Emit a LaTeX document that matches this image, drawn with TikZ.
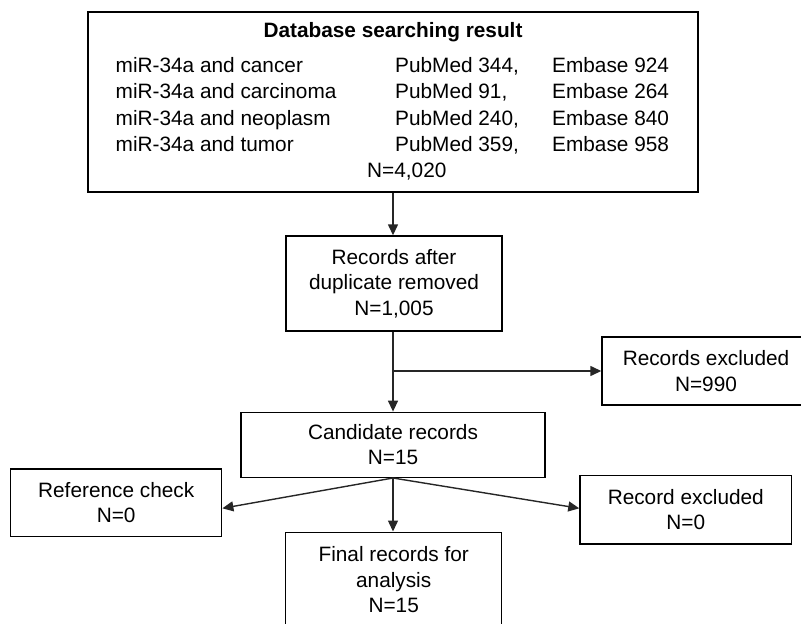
\documentclass[tikz,border=0pt]{standalone}
\usepackage{fontspec}
\setmainfont{Liberation Sans}
\usetikzlibrary{arrows.meta}
\tikzset{
  box/.style={draw=black, line width=1.4pt, inner sep=0pt, align=center,
    font=\fontsize{20.8}{25.5}\selectfont},
  txt/.style={inner sep=0pt, font=\fontsize{20.8}{25.5}\selectfont},
  conn/.style={draw=black!85, line width=1.4pt, -{Triangle[length=11pt,width=10pt]}},
  plain/.style={draw=black!85, line width=1.4pt}
}
\begin{document}
\begin{tikzpicture}[x=1pt,y=-1pt]
\useasboundingbox (0,0) rectangle (801,624);
% boxes
\node[box, minimum width=610pt, minimum height=180pt] (top) at (393,102) {};
\node[box, minimum width=216pt, minimum height=95pt] (rec) at (394,283.5)
  {Records after\\duplicate removed\\N=1,005};
\node[box, minimum width=208pt, minimum height=68pt] (excl) at (706,371)
  {Records excluded\\N=990};
\node[box, minimum width=304pt, minimum height=65pt] (cand) at (393,444.8)
  {Candidate records\\N=15};
\node[box, minimum width=211pt, minimum height=67.7pt] (ref) at (116.2,502.8)
  {Reference check\\N=0};
\node[box, minimum width=211.7pt, minimum height=68.3pt] (recx) at (685.8,509.8)
  {Record excluded\\N=0};
\node[box, minimum width=216pt, minimum height=95pt] (final) at (393.7,579.7)
  {Final records for\\analysis\\N=15};
% top box text
\node[txt, anchor=base, font=\fontsize{20.8}{25.5}\selectfont\bfseries] (title) at (393,37.7) {Database searching result};
\node[txt, anchor=base west] (a1) at (115.5,72.3) {miR-34a and cancer};
\node[txt, anchor=base west] (a2) at (115.5,98.8) {miR-34a and carcinoma};
\node[txt, anchor=base west] (a3) at (115.5,125.3) {miR-34a and neoplasm};
\node[txt, anchor=base west] (a4) at (115.5,151.8) {miR-34a and tumor};
\node[txt, anchor=base west] (b1) at (395,72.3) {PubMed 344,};
\node[txt, anchor=base west] (b2) at (395,98.8) {PubMed 91,};
\node[txt, anchor=base west] (b3) at (395,125.3) {PubMed 240,};
\node[txt, anchor=base west] (b4) at (395,151.8) {PubMed 359,};
\node[txt, anchor=base west] (c1) at (552,72.3) {Embase 924};
\node[txt, anchor=base west] (c2) at (552,98.8) {Embase 264};
\node[txt, anchor=base west] (c3) at (552,125.3) {Embase 840};
\node[txt, anchor=base west] (c4) at (552,151.8) {Embase 958};
\node[txt, anchor=base west] (ntot) at (367,177) {N=4,020};
% connectors
\draw[conn] (top.south) -- (top.south |- rec.north);
\coordinate (br) at (393,371);
\draw[conn] (top.south |- rec.south) -- (cand.north);
\draw[conn] (br) -- (excl.west);
\draw[conn] (cand.south) -- ([yshift=-5.5pt]ref.east);
\draw[conn] (cand.south) -- ([yshift=1.5pt]recx.west);
\draw[conn] (cand.south) -- (cand.south |- final.north);
\end{tikzpicture}
\end{document}
